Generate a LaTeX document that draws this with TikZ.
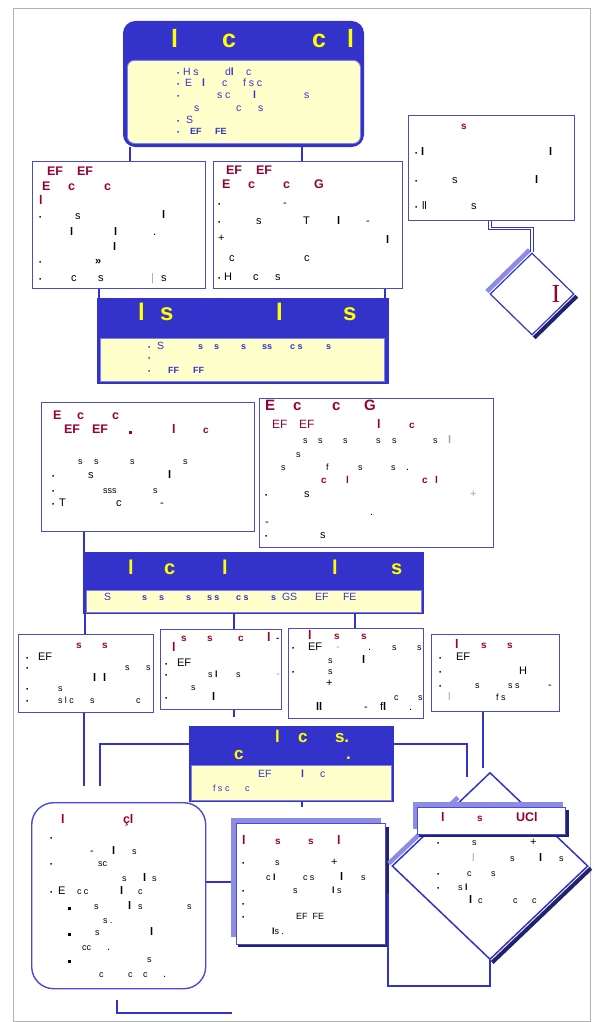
\documentclass[tikz,border=0pt]{standalone}
\usepackage{fontspec}
\setmainfont{Liberation Sans}
\newfontfamily\serifI{Liberation Serif}
\usetikzlibrary{shapes.geometric,calc}
\definecolor{hblue}{HTML}{3333CC}
\definecolor{bblue}{HTML}{4A4AD4}
\definecolor{lblue}{HTML}{8C8CE6}
\definecolor{navy}{HTML}{22226E}
\definecolor{cream}{HTML}{FFFFCC}
\definecolor{dred}{HTML}{990033}
\definecolor{yel}{HTML}{FFFF00}
\newcounter{tc}
% text fragment: \tx[style]{x}{y}{text}
\newcommand\tx[4][]{\stepcounter{tc}\node[tx,#1] (t\arabic{tc}) at (#2,#3) {#4};}
\newcommand\bu{{\fontsize{6.5}{6.5}\selectfont\textbullet}}
\newcommand\sq{\rule{2.6pt}{2.6pt}}
\newcommand\lb{\textbf{l}}
\tikzset{
 tx/.style={inner sep=0pt, outer sep=0pt, anchor=mid west, text=black, font=\fontsize{11}{12}\selectfont},
 sm/.style={font=\fontsize{9}{10}\selectfont},
 bt/.style={text=hblue, font=\fontsize{10.5}{12}\selectfont},
 bs/.style={text=hblue, font=\fontsize{9}{10}\selectfont\bfseries},
 rd/.style={text=dred, font=\fontsize{12.5}{14}\selectfont\bfseries},
 rs/.style={text=dred, font=\fontsize{10}{12}\selectfont\bfseries},
 ye/.style={text=yel, font=\fontsize{#1}{#1}\selectfont\bfseries},
 gr/.style={text=gray!70},
 box/.style={draw=bblue, line width=1.4pt, fill=white, inner sep=0pt, anchor=north west},
 hdr/.style={fill=hblue, draw=hblue, line width=1pt, inner sep=0pt, anchor=north west},
 crm/.style={fill=cream, draw=bblue!70, line width=0.8pt, inner sep=0pt, anchor=north west},
 shd/.style={fill=lblue, draw=none, inner sep=0pt, anchor=north west},
 dshd/.style={fill=navy, draw=none, inner sep=0pt, anchor=north west},
 conn/.style={draw=hblue, line width=2.6pt},
 conn2/.style={draw=hblue, line width=1pt, double=white, double distance=1.6pt},
}
\begin{document}
\begin{tikzpicture}[x=1pt,y=-1pt]
\useasboundingbox (0,0) rectangle (601,1022);
\draw[gray!60, line width=0.6pt] (13,8) rectangle (590,1021);

% ---------- boxes ----------
\node[hdr, rounded corners=12pt, minimum width=240, minimum height=125] (TT) at (123,21) {};
\node[crm, rounded corners=7pt, minimum width=233, minimum height=83] (TB) at (127,60) {};
\node[box, minimum width=173, minimum height=127] (A) at (32,161) {};
\node[box, minimum width=189, minimum height=127] (B) at (213,161) {};
\node[box, minimum width=166, minimum height=105] (C) at (408,115) {};
\node[diamond, draw=hblue, line width=1.2pt, fill=white, minimum width=84, minimum height=82, inner sep=0pt] (SD) at (532,294) {};
\draw[lblue, line width=4.5pt] ([shift={(-2.5,-2.5)}]SD.west) -- ([shift={(-2.5,-2.5)}]SD.north);
\draw[navy, line width=4pt] ([shift={(2.2,2.2)}]SD.east) -- ([shift={(2.2,2.2)}]SD.south);

\node[hdr, minimum width=291, minimum height=85] (B1) at (97,298) {};
\node[crm, minimum width=284, minimum height=43] (C1) at (100,338) {};
\node[box, minimum width=213, minimum height=129] (D) at (41,402) {};
\node[box, minimum width=234, minimum height=149] (E) at (259,398) {};
\node[hdr, minimum width=340, minimum height=61] (B2) at (83,552) {};
\node[crm, minimum width=335, minimum height=22] (C2) at (86,590) {};
\node[box, minimum width=135, minimum height=78] (F) at (18,634) {};
\node[box, minimum width=121, minimum height=80] (G) at (160,629) {};
\node[box, minimum width=135, minimum height=90] (H) at (288,628) {};
\node[box, minimum width=128, minimum height=77] (I) at (431,634) {};
\node[hdr, minimum width=204, minimum height=75] (B3) at (189,726) {};
\node[crm, minimum width=200, minimum height=35] (C3) at (191,765) {};
\node[box, rounded corners=22pt, minimum width=174, minimum height=186] (J) at (31,802) {};
\node[shd, minimum width=150, minimum height=119] (Ks) at (231,818) {};
\node[dshd, minimum width=151, minimum height=120] (Kd) at (238,827) {};
\node[box, minimum width=149, minimum height=121] (K) at (236,823) {};
\node[diamond, draw=hblue, line width=1.5pt, fill=white, minimum width=196, minimum height=187, inner sep=0pt] (BD) at (490,866) {};
\draw[lblue, line width=4.5pt] ([shift={(-2.5,-2.5)}]BD.west) -- ([shift={(-2.5,-2.5)}]$(BD.west)!0.7!(BD.north)$);
\draw[navy, line width=4pt] ([shift={(2.2,2.2)}]BD.east) -- ([shift={(2.2,2.2)}]BD.south);
\node[shd, minimum width=150, minimum height=27] (DHs) at (413,802) {};
\node[dshd, minimum width=150, minimum height=27] (DHd) at (419,810) {};
\node[box, minimum width=148, minimum height=27] (DH) at (417,807) {};

% ---------- connectors ----------
\foreach \n/\v in {x84/84,x85/85,x99/99,x130/130,x234/234,x302/302,x355/355,x385/385,x388/388,x483/483,x490/490}
  \coordinate (\n) at (\v,0);
\coordinate (y744) at (0,744);
\coordinate (y882) at (0,882);
\coordinate (y893) at (0,893);
\coordinate (y986) at (0,986);
\coordinate (e1) at (84,786);
\coordinate (e2) at (100,786);
\coordinate (e3) at (467,777);
\coordinate (e4) at (483,768);
\coordinate (e5) at (117,1000);
\coordinate (e6) at (232,1013);

\draw[conn] (TT.south -| x130) -- (A.north -| x130);
\draw[conn] (TT.south -| x302) -- (B.north -| x302);
\draw[conn2] (C.south -| x490) -- ++(0,7) -| (SD.north);
\draw[conn] (A.south -| x99) -- (B1.north -| x99);
\draw[conn] (B.south -| x385) -- (B1.north -| x385);
\draw[conn] (D.south -| x84) -- (B2.north -| x84);
\draw[conn] (B2.south -| x85) -- (F.north -| x85);
\draw[conn] (B2.south -| x234) -- (G.north -| x234);
\draw[conn] (B2.south -| x355) -- (H.north -| x355);
\draw[conn] (F.south -| x84) -- (e1);
\draw[conn] (G.south -| x234) -- ++(0,7);
\draw[conn] (e2) |- (B3.west |- y744);
\draw[conn] (B3.east |- y744) -| (e3);
\draw[conn] (I.south -| x483) -- (e4);
\draw[conn] (B3.south -| x302) -- ++(0,5);
\draw[conn] (e5) |- (e6);
\draw[conn] (J.east |- y882) -- (Ks.west |- y882);
\draw[conn] (y893 -| x388) |- (y986 -| BD.south) -- (BD.south);

% ---------- top box ----------
\tx[ye=25]{171}{45}{l}\tx[ye=25]{222}{45}{c}\tx[ye=25]{312}{45}{c}\tx[ye=25]{347}{45}{l}
\tx[bt]{177}{73}{\bu}\tx[bt]{183}{73}{H s}\tx[bt]{225}{73}{d\lb}\tx[bt]{246}{73}{c}
\tx[bt]{177}{84}{\bu}\tx[bt]{185}{84}{E}\tx[bt]{202}{84}{\lb}\tx[bt]{222}{84}{c}\tx[bt]{243}{84}{f s c}
\tx[bt]{177}{96}{\bu}\tx[bt]{217}{96}{s c}\tx[bt]{253}{96}{\lb}\tx[bt]{304}{96}{s}
\tx[bt]{194}{109}{s}\tx[bt]{236}{109}{c}\tx[bt]{258}{109}{s}
\tx[bt]{177}{121}{\bu}\tx[bt]{186}{121}{S}
\tx[bt]{177}{132}{\bu}\tx[bs]{190}{132}{EF}\tx[bs]{215}{132}{FE}

% ---------- box A ----------
\tx[rd]{47}{173}{EF}\tx[rd]{77}{173}{EF}
\tx[rd]{42}{188}{E}\tx[rd]{68}{188}{c}\tx[rd]{104}{188}{c}
\tx[rd]{39}{202}{l}
\tx{39}{217}{\bu}\tx{75}{217}{s}\tx{162}{216}{\lb}
\tx{70}{233}{\lb}\tx{114}{233}{\lb}\tx{153}{233}{.}
\tx{113}{248}{\lb}
\tx{39}{262}{\bu}\tx{95}{262}{\textbf{»}}
\tx{39}{279}{\bu}\tx{71}{279}{c}\tx{98}{279}{s}\tx[gr]{151}{279}{|}\tx{161}{279}{s}

% ---------- box B ----------
\tx[rd]{226}{172}{EF}\tx[rd]{256}{172}{EF}
\tx[rd]{222}{186}{E}\tx[rd]{248}{186}{c}\tx[rd]{283}{186}{c}\tx[rd]{314}{186}{G}
\tx{218}{204}{\bu}\tx{283}{204}{-}
\tx{218}{222}{\bu}\tx{256}{222}{s}\tx{303}{222}{T}\tx{337}{222}{\lb}\tx{366}{222}{-}
\tx{218}{239}{+}\tx{386}{241}{\lb}
\tx{229}{259}{c}\tx{304}{259}{c}
\tx{218}{278}{\bu}\tx{224}{278}{H}\tx{253}{278}{c}\tx{275}{278}{s}

% ---------- box C ----------
\tx[rs]{461}{127}{s}
\tx{415}{153}{\bu}\tx{421}{153}{\lb}\tx{549}{153}{\lb}
\tx{415}{181}{\bu}\tx{452}{181}{s}\tx{535}{181}{\lb}
\tx{415}{207}{\bu}\tx{422}{207}{ll}\tx{471}{207}{s}
\tx[text=dred, anchor=center, font=\serifI\fontsize{26}{26}\selectfont]{556}{294}{I}

% ---------- bar 1 ----------
\tx[ye=24]{138}{318}{l}\tx[ye=24]{160}{318}{s}\tx[ye=24]{276}{318}{l}\tx[ye=24]{343}{318}{s}
\tx[bt]{148}{347}{\bu}\tx[bt]{157}{347}{S}\tx[bs]{198}{347}{s}\tx[bs]{214}{347}{s}\tx[bs]{241}{347}{s}\tx[bs]{262}{347}{ss}\tx[bs]{290}{347}{c s}\tx[bs]{326}{347}{s}
\tx[bt]{148}{358}{\bu}
\tx[bt]{148}{371}{\bu}\tx[bs]{168}{371}{FF}\tx[bs]{193}{371}{FF}

% ---------- box D ----------
\tx[rd]{53}{417}{E}\tx[rd]{77}{417}{c}\tx[rd]{112}{417}{c}
\tx[rd]{64}{431}{EF}\tx[rd]{92}{431}{EF}\tx[rd]{129}{431}{\sq}\tx[rd]{172}{431}{l}\tx[rs]{203}{431}{c}
\tx[sm]{78}{462}{s}\tx[sm]{94}{462}{s}\tx[sm]{130}{462}{s}\tx[sm]{183}{462}{s}
\tx{52}{476}{\bu}\tx{88}{476}{s}\tx{168}{476}{\lb}
\tx{52}{491}{\bu}\tx[sm]{103}{491}{sss}\tx[sm]{153}{491}{s}
\tx{52}{504}{\bu}\tx{59}{504}{T}\tx{116}{504}{c}\tx{160}{504}{-}

% ---------- box E ----------
\tx[rd, font=\fontsize{15}{16}\selectfont\bfseries]{265}{408}{E}\tx[rd, font=\fontsize{15}{16}\selectfont\bfseries]{293}{408}{c}\tx[rd, font=\fontsize{15}{16}\selectfont\bfseries]{332}{408}{c}\tx[rd, font=\fontsize{15}{16}\selectfont\bfseries]{364}{408}{G}
\tx[rd, font=\fontsize{12}{14}\selectfont]{272}{426}{EF}\tx[rd, font=\fontsize{12}{14}\selectfont]{299}{426}{EF}\tx[rd]{377}{426}{l}\tx[rs]{409}{426}{c}
\tx[sm]{303}{441}{s}\tx[sm]{318}{441}{s}\tx[sm]{343}{441}{s}\tx[sm]{376}{441}{s}\tx[sm]{392}{441}{s}\tx[sm]{433}{441}{s}\tx[gr]{448}{441}{\lb}
\tx[sm]{296}{455}{s}
\tx[sm]{281}{468}{s}\tx[sm]{326}{468}{f}\tx[sm]{358}{468}{s}\tx[sm]{391}{468}{s}\tx{406}{468}{.}
\tx[rs]{321}{481}{c}\tx[rs]{346}{481}{l}\tx[rs]{422}{481}{c}\tx[rs]{435}{481}{l}
\tx{265}{495}{\bu}\tx{304}{495}{s}\tx[gr]{470}{495}{+}
\tx{370}{513}{.}
\tx{265}{523}{-}
\tx{265}{536}{\bu}\tx{320}{536}{s}

% ---------- bar 2 ----------
\tx[ye=20]{128}{572}{l}\tx[ye=20]{164}{572}{c}\tx[ye=20]{222}{572}{l}\tx[ye=20]{332}{572}{l}\tx[ye=20]{391}{572}{s}
\tx[bt]{104}{598}{S}\tx[bs]{142}{598}{s}\tx[bs]{159}{598}{s}\tx[bs]{186}{598}{s}\tx[bs]{207}{598}{s s}\tx[bs]{236}{598}{c s}\tx[bs]{271}{598}{s}\tx[bt]{282}{598}{GS}\tx[bt]{315}{598}{EF}\tx[bt]{343}{598}{FE}

% ---------- box F ----------
\tx[rs]{76}{646}{s}\tx[rs]{102}{646}{s}
\tx{26}{658}{\bu}\tx{38}{658}{EF}
\tx{26}{668}{\bu}\tx[sm]{125}{668}{s}\tx[sm]{146}{668}{s}
\tx{93}{679}{\lb}\tx{103}{679}{\lb}
\tx{26}{689}{\bu}\tx[sm]{58}{689}{s}
\tx{26}{701}{\bu}\tx[sm]{58}{701}{s l c}\tx[sm]{90}{701}{s}\tx[sm]{136}{701}{c}

% ---------- box G ----------
\tx[rs]{181}{639}{s}\tx[rs]{207}{639}{s}\tx[rs]{238}{639}{c}\tx[rd]{267}{639}{l}\tx[rs]{276}{639}{-}
\tx[rd]{172}{649}{l}
\tx{165}{664}{\bu}\tx{177}{664}{EF}
\tx{165}{675}{\bu}\tx[sm]{208}{675}{s \lb}\tx[sm]{236}{675}{s}\tx[gr]{276}{675}{-}
\tx[sm]{191}{688}{s}
\tx{165}{698}{\bu}\tx{212}{698}{\lb}

% ---------- box H ----------
\tx[rd]{308}{637}{l}\tx[rs]{334}{637}{s}\tx[rs]{361}{637}{s}
\tx{292}{648}{\bu}\tx{308}{648}{EF}\tx[gr]{336}{648}{-}\tx{368}{648}{.}\tx[sm]{392}{648}{s}\tx[sm]{417}{648}{s}
\tx[sm]{328}{661}{s}\tx{362}{661}{\lb}
\tx{292}{672}{\bu}\tx[sm]{328}{672}{s}
\tx{326}{684}{+}
\tx[sm]{394}{698}{c}\tx[sm]{418}{698}{s}
\tx{316}{708}{\textbf{ll}}\tx{364}{708}{-}\tx{380}{708}{f\lb}\tx{409}{708}{.}

% ---------- box I ----------
\tx[rd]{455}{646}{l}\tx[rs]{481}{646}{s}\tx[rs]{507}{646}{s}
\tx{439}{658}{\bu}\tx{456}{658}{EF}
\tx{439}{672}{\bu}\tx{519}{672}{H}
\tx{439}{686}{\bu}\tx[sm]{475}{686}{s}\tx[sm]{508}{686}{s s}\tx{548}{686}{-}
\tx[gr]{448}{698}{l}\tx[sm]{496}{698}{f s}

% ---------- bar 3 ----------
\tx[ye=17]{275}{740}{l}\tx[ye=17]{298}{740}{c}\tx[ye=17]{335}{740}{s.}
\tx[ye=17]{234}{757}{c}\tx[ye=17]{346}{757}{.}
\tx[bt]{258}{775}{EF}\tx[bt]{301}{775}{\lb}\tx[bt]{320}{775}{c}
\tx[bt, font=\fontsize{9}{10}\selectfont]{213}{789}{f s c}\tx[bt, font=\fontsize{9}{10}\selectfont]{245}{789}{c}

% ---------- box J ----------
\tx[rd]{61}{821}{l}\tx[rd]{123}{821}{çl}
\tx{50}{838}{\bu}
\tx{90}{852}{-}\tx{112}{852}{\lb}\tx[sm]{132}{852}{s}
\tx{50}{864}{\bu}\tx[sm]{98}{864}{sc}
\tx[sm]{122}{879}{s}\tx{143}{879}{\lb}\tx[sm]{152}{879}{s}
\tx{50}{892}{\bu}\tx{58}{892}{E}\tx[sm]{77}{892}{c c}\tx{120}{892}{\lb}\tx[sm]{138}{892}{c}
\tx{68}{907}{\sq}\tx[sm]{94}{907}{s}\tx{128}{907}{\lb}\tx[sm]{138}{907}{s}\tx[sm]{187}{907}{s}
\tx[sm]{103}{921}{s .}
\tx{68}{933}{\sq}\tx[sm]{95}{933}{s}\tx{150}{933}{\lb}
\tx[sm]{82}{948}{cc}\tx{107}{948}{.}
\tx{68}{960}{\sq}\tx[sm]{147}{960}{s}
\tx[sm]{99}{975}{c}\tx[sm]{128}{975}{c}\tx[sm]{143}{975}{c}\tx{163}{975}{.}

% ---------- box K ----------
\tx[rd]{242}{842}{l}\tx[rs]{275}{842}{s}\tx[rs]{308}{842}{s}\tx[rd]{337}{842}{l}
\tx{242}{863}{\bu}\tx[sm]{275}{863}{s}\tx{331}{863}{+}
\tx[sm]{266}{878}{c \lb}\tx[sm]{303}{878}{c s}\tx{340}{878}{\lb}\tx[sm]{361}{878}{s}
\tx{242}{891}{\bu}\tx[sm]{293}{891}{s}\tx[sm]{332}{891}{\lb\ s}
\tx{242}{904}{\bu}
\tx{242}{917}{\bu}\tx[sm]{296}{917}{EF\ \ FE}
\tx[sm]{272}{932}{\lb s .}

% ---------- decision ----------
\tx[rd]{441}{819}{l}\tx[rs]{477}{819}{s}\tx[rd]{516}{819}{UCl}
\tx{437}{843}{\bu}\tx[sm]{472}{843}{s}\tx{530}{843}{+}
\tx[gr]{472}{859}{l}\tx[sm]{510}{859}{s}\tx{539}{859}{\lb}\tx[sm]{559}{859}{s}
\tx{437}{874}{\bu}\tx[sm]{467}{874}{c}\tx[sm]{491}{874}{s}
\tx{437}{888}{\bu}\tx[sm]{458}{888}{s \lb}
\tx{469}{901}{\lb}\tx[sm]{478}{901}{c}\tx[sm]{513}{901}{c}\tx[sm]{532}{901}{c}
\end{tikzpicture}
\end{document}
